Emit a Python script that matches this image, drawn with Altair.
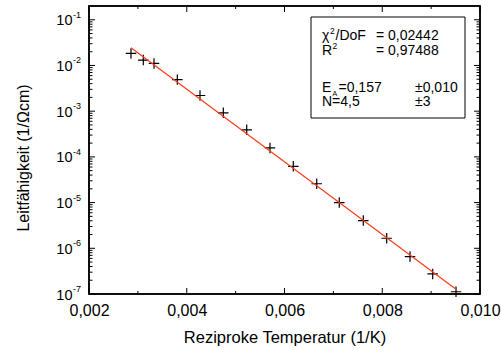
import altair as alt
import pandas as pd

FONT = "Liberation Sans"

# --- data ---
x_vals = [0.002859, 0.003111, 0.003330, 0.003807, 0.004271, 0.004748, 0.005227, 0.005703,
          0.006180, 0.006659, 0.007121, 0.007612, 0.008091, 0.008568, 0.009032, 0.009509]
y_vals = [1.83e-2, 1.31e-2, 1.11e-2, 4.9e-3, 2.2e-3, 9.2e-4, 3.9e-4, 1.57e-4,
          6.2e-5, 2.58e-5, 1.0e-5, 4.05e-6, 1.66e-6, 6.6e-7, 2.75e-7, 1.12e-7]
fit_x = [0.002859, 0.009509]
fit_y = [2.44e-2, 1.27e-7]

x_ticks = [0.002, 0.004, 0.006, 0.008, 0.010]
x_minor = [0.003, 0.005, 0.007, 0.009]
y_decades = [1e-7, 1e-6, 1e-5, 1e-4, 1e-3, 1e-2, 1e-1]
y_exponents = ["-7", "-6", "-5", "-4", "-3", "-2", "-1"]
minor_mult = [2, 3, 4, 5, 6, 7, 8, 9]
y_minor = [m * d for d in y_decades[:-1] for m in minor_mult]

W, H = 391, 288

xs = alt.Scale(domain=[0.002, 0.010], nice=False, zero=False)
ys = alt.Scale(type="log", domain=[1e-7, 0.2], nice=False)

pts = pd.DataFrame({"x": x_vals, "y": y_vals})
fit = pd.DataFrame({"x": fit_x, "y": fit_y})
one = pd.DataFrame({"_": [0]})

points = alt.Chart(pts).mark_point(
    shape="M-1,0L1,0M0,-1L0,1", size=110, color="black", filled=False,
    strokeWidth=1.2, opacity=1
).encode(
    x=alt.X("x:Q", scale=xs, axis=alt.Axis(
        values=x_ticks, labelExpr="replace(format(datum.value, '.3f'), '.', ',')",
        ticks=False, domain=False, grid=False, labelPadding=8, labelFontSize=16,
        labelFont=FONT, labelColor="black", labelFlush=False, labelOverlap=False,
        title="Reziproke Temperatur (1/K)", titleFont=FONT, titleFontSize=16.5,
        titleFontWeight="normal", titleColor="black", titleY=48,
        titleBaseline="alphabetic")),
    y=alt.Y("y:Q", scale=ys, axis=alt.Axis(
        values=y_decades, labelExpr="'10'", ticks=False, domain=False, grid=False,
        labelPadding=17, labelFontSize=14.5, labelFont=FONT, labelColor="black",
        labelOverlap=False, labelFlush=False, labelOffset=1,
        title="Leitfähigkeit (1/Ωcm)", titleFont=FONT, titleFontSize=16,
        titleFontWeight="normal", titleColor="black", titleX=-60.5, titleY=151.5,
        titleBaseline="alphabetic")),
)

line = alt.Chart(fit).mark_line(color="#ff3a1a", strokeWidth=1.2).encode(
    x=alt.X("x:Q", scale=xs), y=alt.Y("y:Q", scale=ys))


def yrules(vals, x1, x2):
    return alt.Chart(pd.DataFrame({"y": vals})).mark_rule(color="black", strokeWidth=1).encode(
        y=alt.Y("y:Q", scale=ys), x=alt.value(x1), x2=alt.value(x2))


def xrules(vals, y1, y2):
    return alt.Chart(pd.DataFrame({"x": vals})).mark_rule(color="black", strokeWidth=1).encode(
        x=alt.X("x:Q", scale=xs), y=alt.value(y1), y2=alt.value(y2))


ticks = [
    yrules(y_decades, 0, 6), yrules(y_minor, 0, 3.5),
    yrules(y_decades, W - 6, W), yrules(y_minor, W - 3.5, W),
    xrules(x_ticks, H, H - 6), xrules(x_minor, H, H - 3),
    xrules(x_ticks, 0, 6), xrules(x_minor, 0, 3),
]

frame = alt.Chart(one).mark_rect(fillOpacity=0, stroke="black", strokeWidth=1.5).encode(
    x=alt.value(0), x2=alt.value(W), y=alt.value(0), y2=alt.value(H))

expo = alt.Chart(pd.DataFrame({"y": y_decades, "e": y_exponents})).mark_text(
    align="left", baseline="middle", fontSize=9, font=FONT, color="black", dy=-5
).encode(x=alt.value(-16), y=alt.Y("y:Q", scale=ys), text="e:N")

box = alt.Chart(one).mark_rect(fill="white", stroke="black", strokeWidth=1).encode(
    x=alt.value(222), x2=alt.value(376), y=alt.value(11), y2=alt.value(112))


def txt(t, x, y, size=14):
    return alt.Chart(one).mark_text(
        text=t, align="left", baseline="alphabetic", fontSize=size, font=FONT, color="black"
    ).encode(x=alt.value(x), y=alt.value(y))


legend = [
    txt("χ", 233, 34), txt("2", 241, 28, 8.5), txt("/DoF", 246.5, 34), txt("= 0,02442", 287, 34),
    txt("R", 233, 48.5), txt("2", 243.5, 42.5, 8.5), txt("= 0,97488", 287, 48.5),
    txt("E", 233, 85.5), txt("A", 243.5, 90, 7), txt("=0,157", 249.5, 85.5), txt("±0,010", 326, 85.5),
    txt("N=4,5", 233, 100), txt("±3", 326, 100),
]

chart = alt.layer(
    points, *ticks, frame, line, box, *legend, expo
).properties(
    width=W, height=H,
    autosize=alt.AutoSizeParams(type="none"),
    padding={"left": 89, "top": 6, "right": 21, "bottom": 55},
    background="white",
).configure_view(stroke="black", strokeWidth=1.5)

chart.save("out.html", embed_options={"renderer": "svg", "actions": False})
